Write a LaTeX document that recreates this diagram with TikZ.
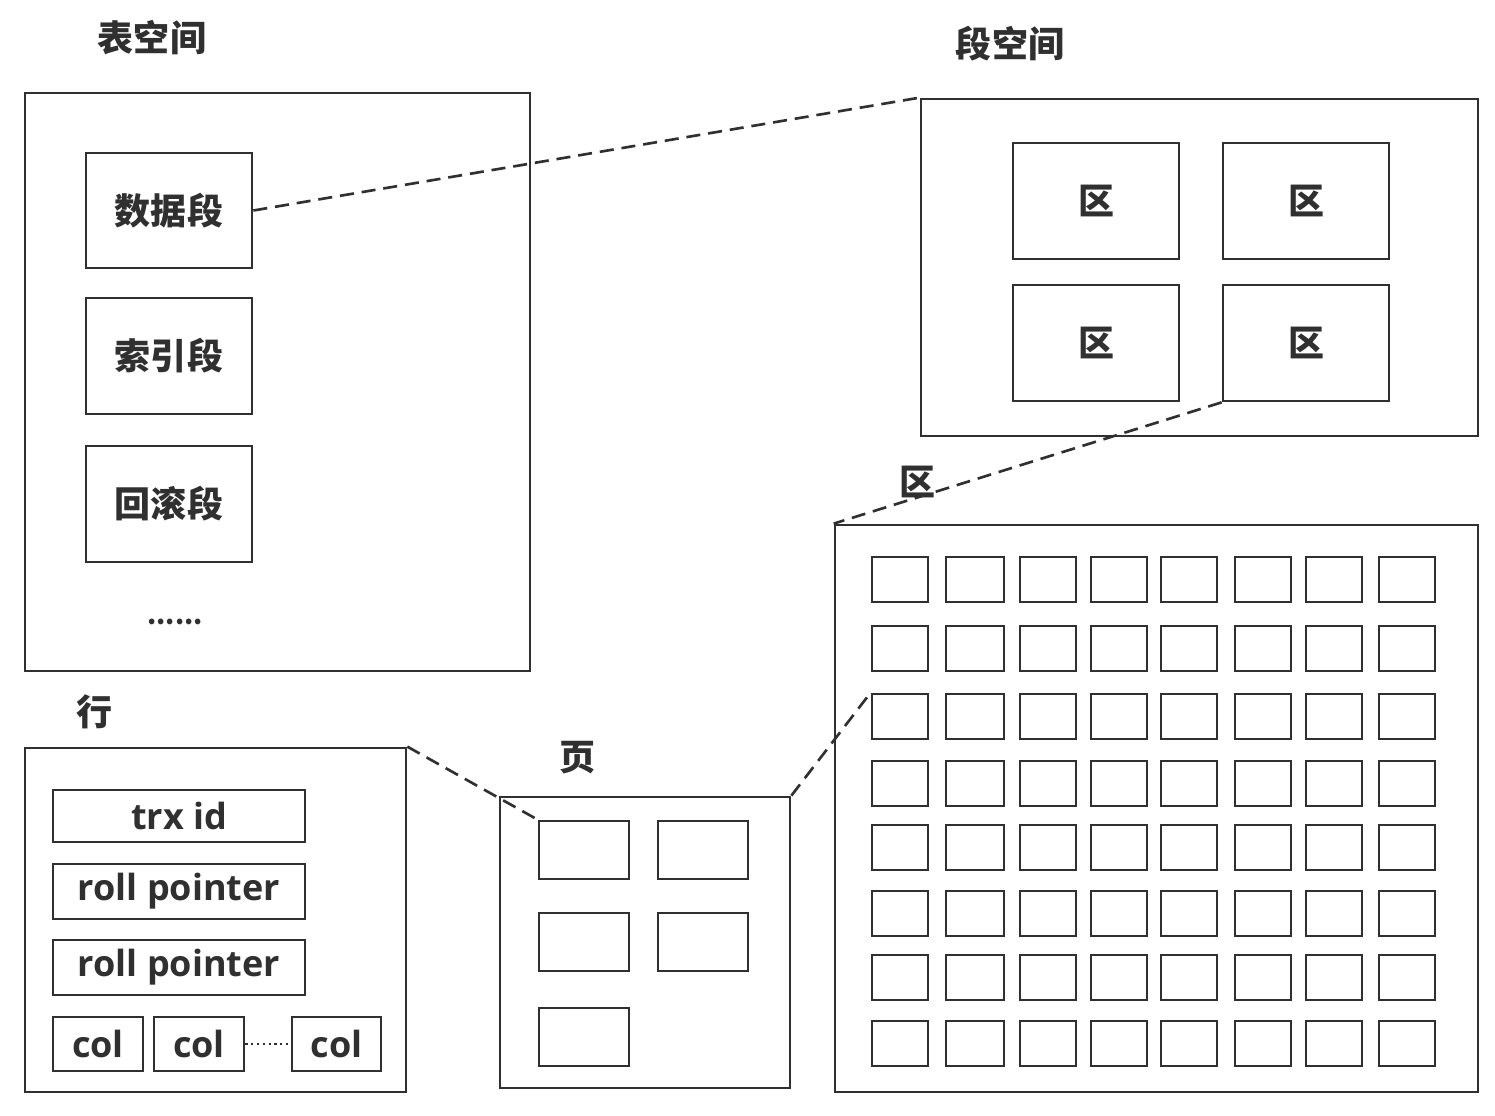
\documentclass[tikz,border=0pt]{standalone}
\usepackage{fontspec}
\setmainfont{Noto Sans CJK SC}
\newfontfamily\latinf{Open Sans}
\definecolor{ink}{HTML}{303030}
\newcommand{\pbox}[6]{\node[boxst, minimum width={(#4-#2)*0.02cm}, minimum height={(#5-#3)*0.02cm}] (#1) at ({(#2+#4)/2},{(#3+#5)/2}) {#6};}
\begin{document}
\begin{tikzpicture}[x=0.02cm, y=-0.02cm,
  boxst/.style={draw=ink, line width=1.55pt, rectangle, inner sep=0pt, text=ink, font=\fontsize{20.5}{24}\selectfont\bfseries},
  lbl/.style={text=ink, inner sep=0pt, font=\fontsize{20.5}{24}\selectfont\bfseries},
  dashln/.style={draw=ink, line width=1.5pt, dash pattern=on 8pt off 4.5pt},
  dotln/.style={draw=ink, line width=1.3pt, dash pattern=on 1.3pt off 2pt}]
\useasboundingbox[fill=white] (0,0) rectangle (1495,1116);

% Tablespace
\node[lbl] (tsl) at (152,38) {表空间};
\pbox{ts}{25}{93}{530}{671}{}
\pbox{d1}{86}{153}{252}{268}{数据段}
\pbox{d2}{86}{298}{252}{414}{索引段}
\pbox{d3}{86}{446}{252}{562}{回滚段}
\node[lbl, font=\fontsize{15}{18}\selectfont\bfseries] (dots) at (175,622) {......};

% Segment space
\node[lbl] (ssl) at (1010,44) {段空间};
\pbox{seg}{921}{99}{1478}{436}{}
\pbox{e1}{1013}{143}{1179}{259}{区}
\pbox{e2}{1223}{143}{1389}{259}{区}
\pbox{e3}{1013}{285}{1179}{401}{区}
\pbox{e4}{1223}{285}{1389}{401}{区}

% Extent
\node[lbl] (extl) at (918,482) {区};
\pbox{ext}{835}{525}{1478}{1092}{}
\foreach \r/\ya/\yb in {1/557/602,2/626/671,3/694/739,4/761/806,5/825/870,6/891/936,7/955/1000,8/1021/1066}{
  \foreach \c/\xa/\xb in {1/872/928,2/946/1004,3/1020/1076,4/1091/1147,5/1161/1217,6/1235/1291,7/1306/1362,8/1379/1435}{
    \pbox{g-\r-\c}{\xa}{\ya}{\xb}{\yb}{}
  }
}

% Row
\node[lbl] (rowl) at (95,712) {行};
\pbox{row}{25}{748}{406}{1092}{}
\pbox{r1}{53}{790}{305}{842}{\raisebox{-1.5pt}{\latinf trx id}}
\pbox{r2}{53}{864}{305}{919}{\raisebox{-4pt}{\latinf roll pointer}}
\pbox{r3}{53}{940}{305}{995}{\raisebox{-4pt}{\latinf roll pointer}}
\pbox{c1}{53}{1017}{143}{1071}{\latinf col}
\pbox{c2}{154}{1017}{244}{1071}{\latinf col}
\pbox{c3}{292}{1017}{381}{1071}{\latinf col}
\draw[dotln] (c2.east) -- (c3.west);

% Page
\node[lbl] (pagel) at (578,758) {页};
\pbox{page}{500}{797}{790}{1088}{}
\pbox{p1}{539}{821}{629}{879}{}
\pbox{p2}{658}{821}{748}{879}{}
\pbox{p3}{539}{913}{629}{971}{}
\pbox{p4}{658}{913}{748}{971}{}
\pbox{p5}{539}{1008}{629}{1066}{}

% Connectors
\draw[dashln] (d1.east) -- (seg.north west);
\draw[dashln] (e4.south west) -- (ext.north west);
\draw[dashln] (row.north east) -- (p1.north west);
\draw[dashln] (page.north east) -- (g-3-1.north west);
\end{tikzpicture}
\end{document}
